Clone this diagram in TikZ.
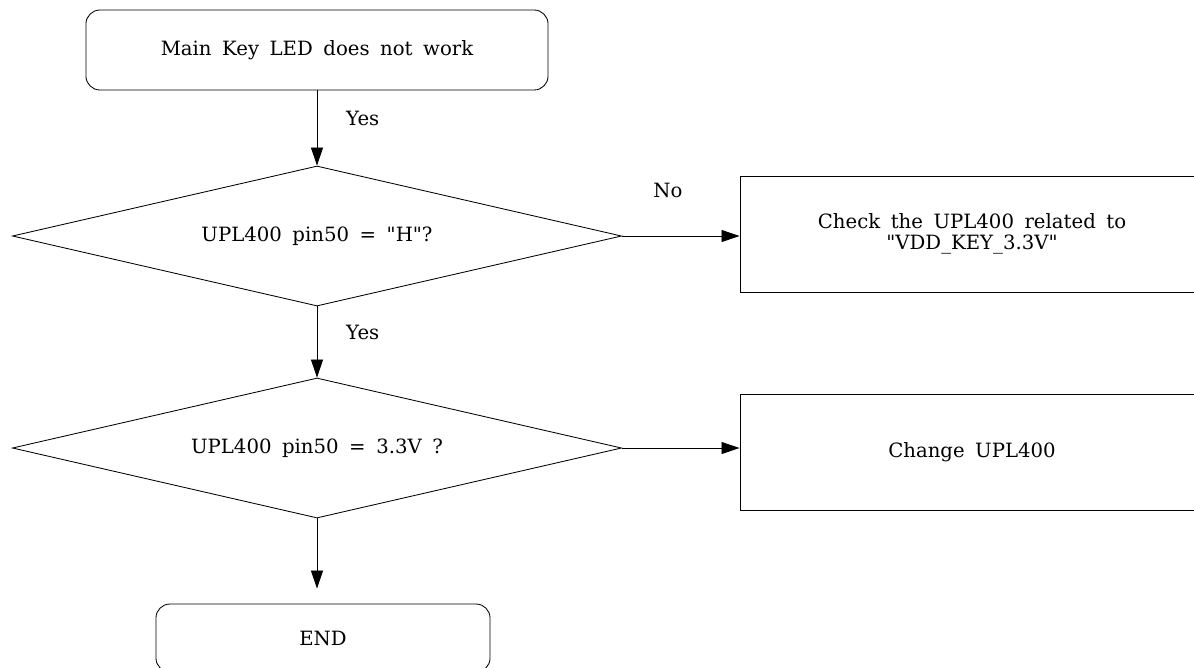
\documentclass[tikz,border=0pt]{standalone}
\usepackage{fontspec}
\setmainfont{DejaVu Serif}
\usepackage{tikz}
\usetikzlibrary{positioning,shapes.geometric,arrows.meta}

\begin{document}
\begin{tikzpicture}[x=0.025cm,y=-0.025cm,line width=0.6pt,
	every node/.style={font=\fontsize{14}{14.6}\selectfont,execute at begin node={\spaceskip=7.5pt plus 2pt\relax}},
	startstop/.style={rectangle,draw,rounded corners=0.35cm},
	decision/.style={diamond,draw,aspect=4.35,inner sep=0pt,minimum width=15.225cm,minimum height=3.5cm},
	process/.style={rectangle,draw,minimum width=11.6cm,minimum height=2.9cm,align=center},
	flow/.style={draw,-{Triangle[length=0.45cm,width=0.3cm]}},
	lbl/.style={inner sep=0pt}]
	\useasboundingbox (0,0) rectangle (1194,667);
	\clip (0,0) rectangle (1194,667);
	\node[startstop,minimum width=11.55cm,minimum height=2cm] (start) at (317,50) {Main Key LED does not work};
	\node[decision] (q1) at (317,236) {UPL400 pin50 = \textquotedbl H\textquotedbl?};
	\node[process] (chk) at (972,234) {Check the UPL400 related to\\\textquotedbl VDD\_KEY\_3.3V\textquotedbl};
	\node[decision] (q2) at (317,448) {UPL400 pin50 = 3.3V ?};
	\node[process] (chg) at (972,452) {Change UPL400};
	\node[startstop,minimum width=8.35cm,minimum height=1.7cm] (end) at (323,638) {END};
	\draw[flow] (start) -- node[lbl,pos=0.37,right=0.72cm] {Yes} (q1);
	\draw[flow] (q1) -- node[lbl,pos=0.39,above=0.95cm] {No} (q1 -| chk.west);
	\draw[flow] (q1) -- node[lbl,pos=0.36,right=0.72cm] {Yes} (q2);
	\draw[flow] (q2) -- (q2 -| chg.west);
	\draw[flow,shorten >=0.375cm] (q2) -- (q2 |- end.north);
	% \node[right = of q2] {No};
\end{tikzpicture}
\end{document}
